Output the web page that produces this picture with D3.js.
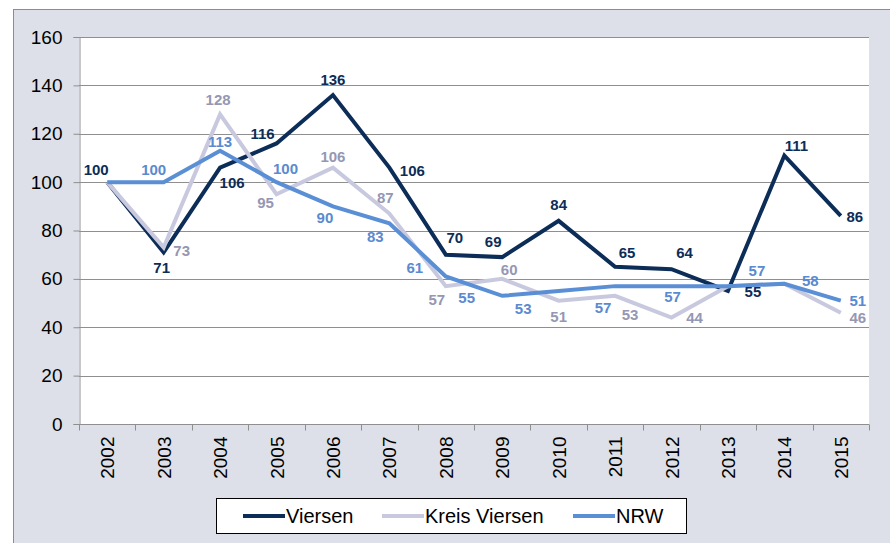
<!DOCTYPE html>
<html>
<head>
<meta charset="utf-8">
<script src="https://cdn.jsdelivr.net/npm/d3@7"></script>
<style>
body { margin: 0; background: #fff; }
svg { display: block; font-family: "Liberation Sans", Arial, sans-serif; }
</style>
</head>
<body>
<div id="chart"></div>
<script>
var width = 890, height = 543;

// data
var years = ["2002", "2003", "2004", "2005", "2006", "2007", "2008", "2009", "2010", "2011", "2012", "2013", "2014", "2015"];
var viersen = [100, 71, 106, 116, 136, 106, 70, 69, 84, 65, 64, 55, 111, 86];
var kreisViersen = [100, 73, 128, 95, 106, 87, 57, 60, 51, 53, 44, 57, 58, 46];
var nrw = [100, 100, 113, 100, 90, 83, 61, 53, 55, 57, 57, 57, 58, 51];
var yTicks = [0, 20, 40, 60, 80, 100, 120, 140, 160];
var seriesNames = ["Viersen", "Kreis Viersen", "NRW"];

// label offsets (dx, dy) relative to the point, null = no label
var viersenLabelPos = [[-11, -12], [-2, 15], [12, 15], [-14, -10], [0, -15], [23, 3], [9, -17], [-9, -15], [0, -16], [12, -14], [13, -16], [25, 1], [12, -10], [14, 1]];
var kreisLabelPos = [null, [18, 3], [-2, -15], [-11, 9], [0, -11], [-4, -16], [-9, 14], [7, -9], [0, 16], [15, 19], [23, 0], null, null, [17, 5]];
var nrwLabelPos = [null, [-10, -12], [0, -9], [9, -13], [-8, 11], [-14, 14], [-31, -9], [21, 13], [-92, 7], [-12, 22], [1, 11], [29, -15], [26, -3], [17, 0]];

var colors = ["#0c2d57", "#c8c9de", "#5a8fd6"];
var labelColors = ["#0c2d57", "#9597b3", "#5a8ad0"];

var margin = { left: 79, right: 21, top: 37, bottom: 119 };

var svg = d3.select("#chart").append("svg").attr("width", width).attr("height", height);

// outer chart area
svg.append("rect")
    .attr("x", 13.5).attr("y", 9.5)
    .attr("width", width).attr("height", height)
    .attr("fill", "#dde0e8")
    .attr("stroke", "#8c8c8c");

var x = d3.scaleBand().domain(years).range([margin.left, width - margin.right]);
var y = d3.scaleLinear().domain([0, 160]).range([height - margin.bottom, margin.top]);
var cx = function (i) { return x(years[i]) + x.bandwidth() / 2; };

svg.append("rect")
    .attr("x", margin.left).attr("y", margin.top)
    .attr("width", width - margin.left - margin.right)
    .attr("height", height - margin.top - margin.bottom)
    .attr("fill", "#fff");

// grid lines
svg.append("g")
    .selectAll("line")
    .data(yTicks.filter(function (d) { return d > 0; }))
    .enter().append("line")
    .attr("x1", margin.left).attr("x2", width - margin.right)
    .attr("y1", function (d) { return Math.round(y(d)) + 0.5; })
    .attr("y2", function (d) { return Math.round(y(d)) + 0.5; })
    .attr("stroke", "#8f8f8f")
    .attr("stroke-width", 1);

// y axis
var yAxis = svg.append("g")
    .attr("transform", "translate(" + (margin.left + 0.5) + ",0)")
    .call(d3.axisLeft(y).tickValues(yTicks).tickSize(6).tickPadding(11));
yAxis.select(".domain").attr("stroke", "#8f8f8f");
yAxis.selectAll(".tick line").attr("stroke", "#8f8f8f");
yAxis.selectAll(".tick text").attr("font-size", 19).attr("fill", "#000").attr("font-family", "Liberation Sans, Arial, sans-serif");

// x axis
var xBottom = Math.round(y(0)) + 0.5;
svg.append("line")
    .attr("x1", margin.left).attr("x2", width - margin.right)
    .attr("y1", xBottom).attr("y2", xBottom)
    .attr("stroke", "#8f8f8f");
var bounds = years.map(function (d) { return x(d); }).concat([x.range()[1]]);
svg.append("g").selectAll("line")
    .data(bounds)
    .enter().append("line")
    .attr("x1", function (d) { return Math.round(d) + 0.5; })
    .attr("x2", function (d) { return Math.round(d) + 0.5; })
    .attr("y1", xBottom).attr("y2", xBottom + 6)
    .attr("stroke", "#8f8f8f");
svg.append("g").selectAll("text")
    .data(years)
    .enter().append("text")
    .attr("transform", function (d) { return "translate(" + (x(d) + x.bandwidth() / 2 + 7) + "," + (xBottom + 12) + ") rotate(-90)"; })
    .attr("text-anchor", "end")
    .attr("font-size", 19)
    .attr("fill", "#000")
    .text(function (d) { return d; });

var line = d3.line()
    .x(function (d, i) { return cx(i); })
    .y(function (d) { return y(d); });

var seriesData = [viersen, kreisViersen, nrw];
var labelPos = [viersenLabelPos, kreisLabelPos, nrwLabelPos];

seriesData.forEach(function (vals, k) {
    svg.append("path")
        .datum(vals)
        .attr("fill", "none")
        .attr("stroke", colors[k])
        .attr("stroke-width", 4)
        .attr("d", line);
});

// data labels
seriesData.forEach(function (vals, k) {
    var pts = vals.map(function (v, i) { return { v: v, i: i, off: labelPos[k][i] }; })
        .filter(function (p) { return p.off !== null; });
    svg.append("g").selectAll("text")
        .data(pts)
        .enter().append("text")
        .attr("x", function (p) { return cx(p.i) + p.off[0]; })
        .attr("y", function (p) { return y(p.v) + p.off[1]; })
        .attr("dy", "0.35em")
        .attr("text-anchor", "middle")
        .attr("font-size", 15)
        .attr("font-weight", "bold")
        .attr("fill", labelColors[k])
        .text(function (p) { return p.v; });
});

// legend
var legend = svg.append("g");
legend.append("rect")
    .attr("x", 216.5).attr("y", 498.5)
    .attr("width", 470).attr("height", 35)
    .attr("fill", "#fff")
    .attr("stroke", "#000");
var legendX = [243, 382, 573];
seriesNames.forEach(function (name, k) {
    legend.append("line")
        .attr("x1", legendX[k]).attr("x2", legendX[k] + 42)
        .attr("y1", 516).attr("y2", 516)
        .attr("stroke", colors[k])
        .attr("stroke-width", 4);
    legend.append("text")
        .attr("x", legendX[k] + 43).attr("y", 516)
        .attr("dy", "0.35em")
        .attr("font-size", 20)
        .attr("fill", "#000")
        .text(name);
});
</script>
</body>
</html>
